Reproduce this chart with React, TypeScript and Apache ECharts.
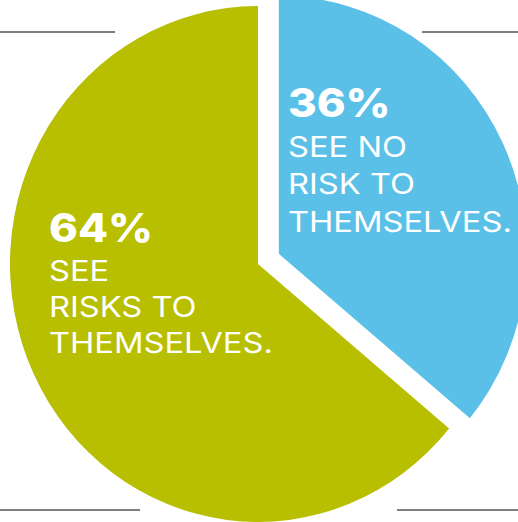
import React, { useEffect, useRef } from "react";
import * as echarts from "echarts";

const categories = ["SEE NO RISK TO THEMSELVES.", "SEE RISKS TO THEMSELVES."];
const values = [36, 64];
const labelLines = [
  ["SEE NO", "RISK TO", "THEMSELVES."],
  ["SEE", "RISKS TO", "THEMSELVES."],
];
const colors = ["#5BC0E8", "#B8BE00"];

const W = 518;
const H = 522;
const S = 1.04; // vertical stretch of the reference
const Y = (y: number) => y / S;

export default function App() {
  const ref = useRef<HTMLDivElement>(null);
  useEffect(() => {
    if (!ref.current) return;
    const chart = echarts.init(ref.current, null, { renderer: "svg" });
    const font = "Inter, sans-serif";
    const labelPos = [
      { x: 288, base: [117, 157, 194, 232] },
      { x: 49, base: [242, 281, 317, 353] },
    ];
    const numCap = 28.5;
    const lineCap = 20.5;
    const texts: any[] = [];
    values.forEach((v, i) => {
      const p = labelPos[i];
      texts.push({
        type: "text",
        x: p.x,
        y: Y(p.base[0] - numCap / 2),
        scaleX: 1.15,
        style: {
          text: `${v}%`,
          fill: "#fff",
          font: `800 38px ${font}`,
          textVerticalAlign: "middle",
          textAlign: "left",
        },
        z: 10,
      });
      labelLines[i].forEach((t, j) => {
        texts.push({
          type: "text",
          x: p.x,
          y: Y(p.base[j + 1] - lineCap / 2),
          scaleX: 1.21,
          style: {
            text: t,
            fill: "#fff",
            font: `27px ${font}`,
            textVerticalAlign: "middle",
            textAlign: "left",
          },
          z: 10,
        });
      });
    });
    const lineStyle = { stroke: "#555555", lineWidth: 1.5 };
    const rules = [
      [0, 32, 115, 32],
      [422, 32, 518, 32],
      [0, 510, 140, 510],
      [397, 510, 518, 510],
    ].map(([x1, y1, x2, y2]) => ({
      type: "line",
      shape: { x1, y1: Y(y1), x2, y2: Y(y2) },
      style: lineStyle,
      z: 1,
    }));
    chart.setOption({
      animation: false,
      backgroundColor: "#ffffff",
      graphic: [...rules, ...texts],
      series: [
        {
          type: "pie",
          center: [258, Y(264)],
          radius: 248,
          startAngle: 90,
          clockwise: true,
          selectedMode: "single",
          selectedOffset: 23,
          label: { show: false },
          labelLine: { show: false },
          emphasis: { disabled: true },
          itemStyle: { borderWidth: 0 },
          data: categories.map((c, i) => ({
            name: c,
            value: values[i],
            selected: i === 0,
            itemStyle: { color: colors[i] },
          })),
        },
      ],
    });
    return () => chart.dispose();
  }, []);
  return (
    <div
      style={{
        position: "fixed",
        left: 0,
        top: 0,
        width: W,
        height: H,
        overflow: "hidden",
        background: "#fff",
      }}
    >
      <div
        ref={ref}
        style={{
          width: W,
          height: H / S,
          transform: `scaleY(${S})`,
          transformOrigin: "0 0",
        }}
      />
    </div>
  );
}
